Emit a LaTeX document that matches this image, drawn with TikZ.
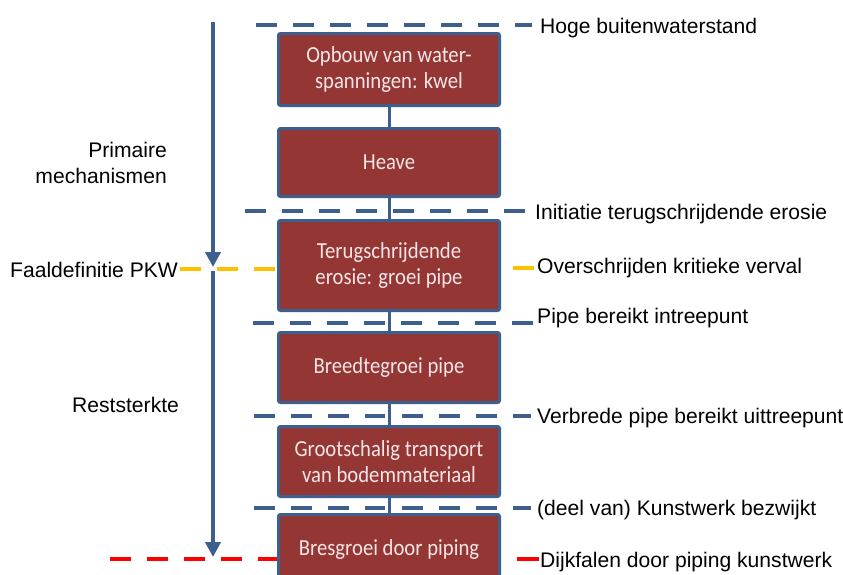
\documentclass[tikz,border=0pt]{standalone}
\usepackage{fontspec}
\setmainfont{Liberation Sans}
\newfontfamily\boxfont[FakeStretch=0.9]{Carlito}
\usetikzlibrary{arrows.meta}
\definecolor{bblue}{HTML}{3C5F8D}
\definecolor{bred}{HTML}{943634}
\definecolor{btext}{HTML}{F4E6E6}
\definecolor{byellow}{HTML}{FFC000}
\definecolor{dred}{HTML}{FF0000}
\begin{document}
\begin{tikzpicture}[x=1pt,y=-1pt,
  mbox/.style={draw=bblue, line width=3pt, fill=bred, rounded corners=2pt,
    minimum width=221pt, text=btext,
    font=\boxfont\fontsize{23}{26}\selectfont, align=center, inner sep=0pt},
  lab/.style={anchor=base west, inner sep=0pt, font=\fontsize{21.1}{24}\selectfont},
  labr/.style={anchor=base east, inner sep=0pt, font=\fontsize{21.1}{24}\selectfont},
  mdash/.style={line width=4.5pt, dash pattern=on 21pt off 16pt},
  halo/.style={white, line width=8pt, shorten <=3pt, shorten >=3pt},
  conn/.style={bblue, line width=3pt},
  flow/.style={bblue, line width=4pt, -{Triangle[width=15pt,length=15pt]}}
]
\useasboundingbox (0,0) rectangle (843,574);
\clip (0,0) rectangle (843,574);

% milestone coordinates
\coordinate (d0a) at (256,25);  \coordinate (d0b) at (532,25);
\coordinate (d1a) at (245,211); \coordinate (d1b) at (525,211);
\coordinate (yla) at (180,269); \coordinate (ylb) at (277,269);
\coordinate (yra) at (513,268); \coordinate (yrb) at (534,268);
\coordinate (d2a) at (253,323); \coordinate (d2b) at (533,323);
\coordinate (d3a) at (254,416); \coordinate (d3b) at (531,416);
\coordinate (d4a) at (254,508); \coordinate (d4b) at (531,508);
\coordinate (rla) at (110,559); \coordinate (rlb) at (277,559);
\coordinate (rra) at (517,559); \coordinate (rrb) at (539,559);

% dashed milestone lines
\draw[mdash, bblue] (d0a) -- (d0b);
\draw[mdash, bblue] (d1a) -- (d1b);
\draw[mdash, byellow] (yla) -- (ylb);
\draw[line width=4.5pt, byellow] (yra) -- (yrb);
\draw[mdash, bblue] (d2a) -- (d2b);
\draw[mdash, bblue] (d3a) -- (d3b);
\draw[mdash, bblue] (d4a) -- (d4b);
\draw[mdash, dred] (rla) -- (rlb);
\draw[line width=4.5pt, dred] (rra) -- (rrb);

% boxes
\node[mbox, minimum height=72pt] (b1) at (389,69.5) {Opbouw van water-\\spanningen: kwel};
\node[mbox, minimum height=68pt] (b2) at (389,162.5) {Heave};
\node[mbox, minimum height=90pt] (b3) at (389,265.5) {Terugschrijdende\\erosie: groei pipe};
\node[mbox, minimum height=70pt] (b4) at (389,367.5) {Breedtegroei pipe};
\node[mbox, minimum height=70pt] (b5) at (389,461.5) {Grootschalig transport\\van bodemmateriaal};
\node[mbox, minimum height=70pt] (b6) at (389,549.5) {Bresgroei door piping};

% connectors between boxes
\foreach \a/\b in {b1/b2,b2/b3,b3/b4,b4/b5,b5/b6}{
  \draw[halo] (\a.south) -- (\b.north);
  \draw[conn] (\a.south) -- (\b.north);
}

% vertical arrows
\coordinate (a1s) at (213,22);  \coordinate (a1e) at (213,267);
\coordinate (a2s) at (213,271); \coordinate (a2e) at (213,557);
\draw[flow] (a1s) -- (a1e);
\draw[flow] (a2s) -- (a2e);

% left labels
\node[labr] (lp1) at (167,157) {Primaire};
\node[labr] (lp2) at (167,183) {mechanismen};
\node[lab] (lf) at (10,277) {Faaldefinitie PKW};
\node[lab] (lr) at (72,412) {Reststerkte};

% right labels
\node[lab] (r0) at (540,33) {Hoge buitenwaterstand};
\node[lab] (r1) at (535,219) {Initiatie terugschrijdende erosie};
\node[lab] (r2) at (537,273) {Overschrijden kritieke verval};
\node[lab] (r3) at (537,323) {Pipe bereikt intreepunt};
\node[lab] (r4) at (537,423) {Verbrede pipe bereikt uittreepunt};
\node[lab] (r5) at (537,515) {(deel van) Kunstwerk bezwijkt};
\node[lab] (r6) at (540,567) {Dijkfalen door piping kunstwerk};
\end{tikzpicture}
\end{document}
